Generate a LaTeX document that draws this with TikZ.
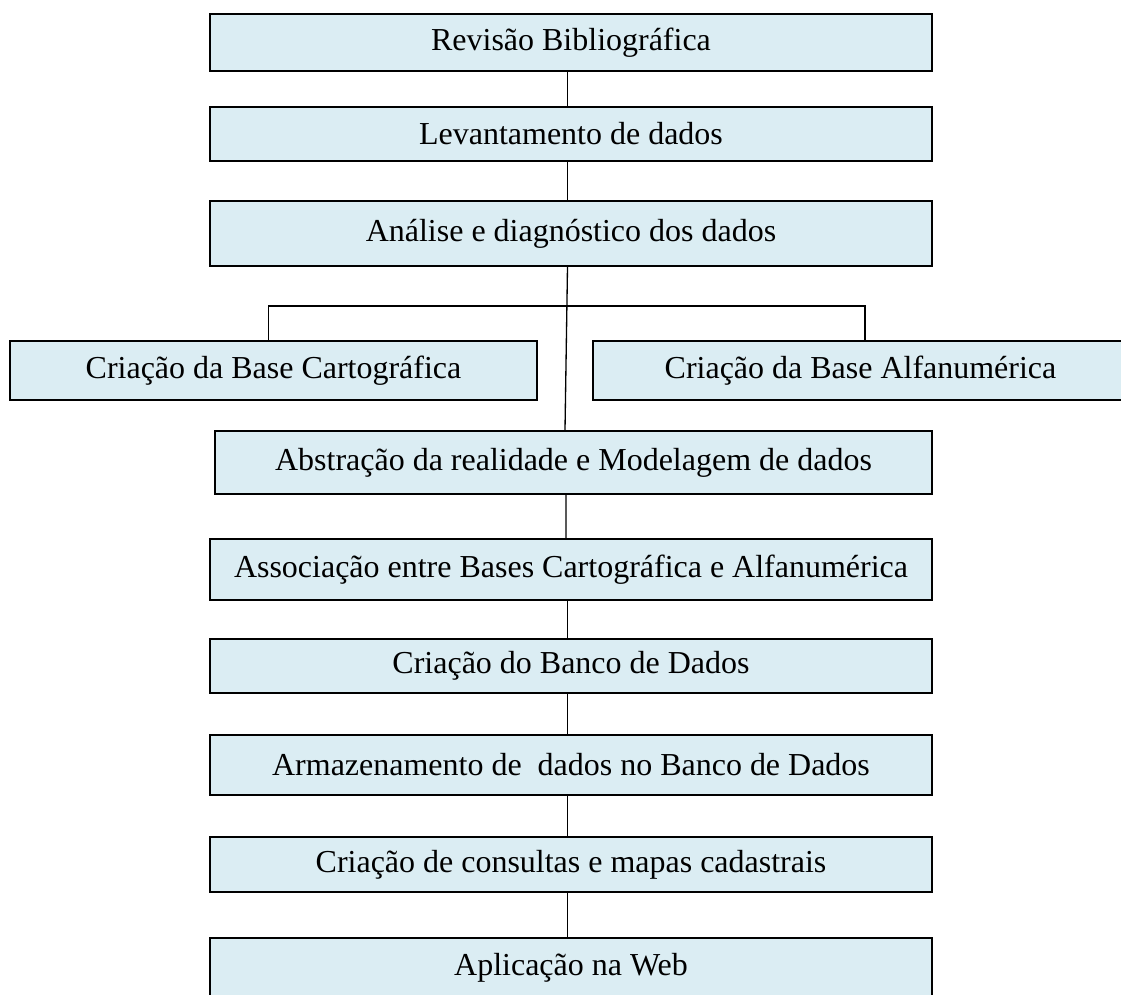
\documentclass[tikz,border=0pt]{standalone}
\usepackage{fontspec}
\setmainfont{Liberation Serif}
\usepackage{tikz}
\usetikzlibrary{positioning}
\definecolor{boxfill}{RGB}{219,237,243}
\tikzstyle{stage}=[draw, line width=1.1pt, fill=boxfill, minimum width=14.44cm, inner sep=0pt, align=center]
\tikzstyle{base}=[draw, line width=1.1pt, fill=boxfill, minimum height=1.18cm, inner sep=0pt, align=center]
\tikzstyle{link}=[draw, line width=0.75pt]

\begin{document}
\begin{tikzpicture}[node distance=2cm,font=\fontsize{18.2}{22}\selectfont]
    \useasboundingbox (0,0) rectangle (22.42,-19.88);
    \node [stage, minimum height=1.14cm] (rev) at (11.42,-0.85) {Revisão Bibliográfica};
    \node [stage, minimum height=1.08cm] (lev) [below of=rev,node distance=1.83cm] {Levantamento de dados};
    \node [stage, minimum height=1.30cm] (ana) [below of=lev,node distance=1.99cm] {Análise e diagnóstico dos dados};
    \node [base, minimum width=10.54cm] (cart) [below of=ana,node distance=2.74cm,xshift=-5.95cm] {Criação da Base Cartográfica};
    \node [base, minimum width=10.7cm] (alfa) [below of=ana,node distance=2.74cm,xshift=5.79cm] {Criação da Base Alfanumérica};
    \node [stage, minimum width=14.34cm, minimum height=1.26cm] (abs) [below of=ana,node distance=4.58cm,xshift=0.05cm] {Abstração da realidade e Modelagem de dados};
    \node [stage, minimum height=1.22cm] (asso) [below of=abs,node distance=2.14cm,xshift=-0.05cm] {Associação entre Bases Cartográfica e Alfanumérica};
    \node [stage, minimum height=1.08cm] (banco) [below of=asso,node distance=1.93cm] {Criação do Banco de Dados};
    \node [stage, minimum height=1.20cm] (arm) [below of=banco,node distance=1.98cm] {Armazenamento de \ dados no Banco de Dados};
    \node [stage, minimum height=1.10cm] (cons) [below of=arm,node distance=1.99cm] {Criação de consultas e mapas cadastrais};
    \node [stage, minimum height=1.18cm] (web) [below of=cons,node distance=2.06cm] {Aplicação na Web};
    \path[link]
    ([xshift=-0.07cm]rev.south) edge ([xshift=-0.07cm]lev.north)
    ([xshift=-0.07cm]lev.south) edge ([xshift=-0.07cm]ana.north)
    ([xshift=-0.07cm]ana.south) edge ([xshift=-0.17cm]abs.north)
    ([xshift=-0.15cm]abs.south) edge ([xshift=-0.1cm]asso.north)
    ([xshift=-0.07cm]asso.south) edge ([xshift=-0.07cm]banco.north)
    ([xshift=-0.07cm]banco.south) edge ([xshift=-0.07cm]arm.north)
    ([xshift=-0.07cm]arm.south) edge ([xshift=-0.07cm]cons.north)
    ([xshift=-0.07cm]cons.south) edge ([xshift=-0.07cm]web.north);
    \draw[link] ([xshift=-0.1cm]cart.north) -- ++(0,0.68) -| ([xshift=0.09cm]alfa.north);
\end{tikzpicture}
\end{document}
